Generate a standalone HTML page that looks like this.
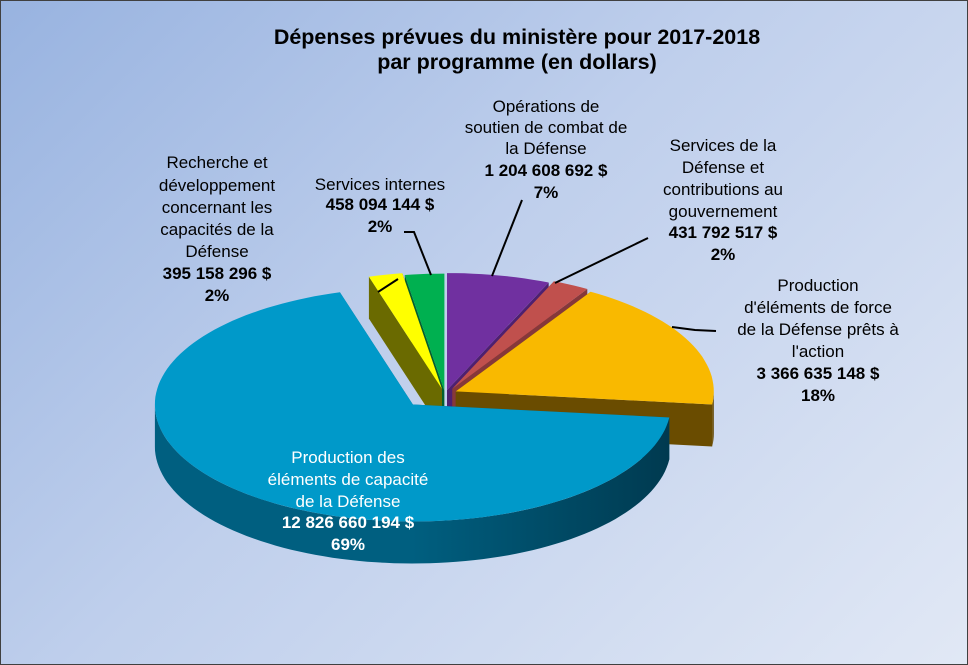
<!DOCTYPE html>
<html><head><meta charset="utf-8"><style>
html,body{margin:0;padding:0}
body{width:968px;height:665px;overflow:hidden;font-family:"Liberation Sans",Arial,sans-serif}
#wrap{position:absolute;left:0;top:0;width:966px;height:663px;border:1px solid #404040;background:linear-gradient(135deg,#98b3e0 0%,#bfcfec 45%,#e1e8f5 100%)}
</style></head><body>
<div id="wrap">
<svg id="svg" width="968" height="665" style="position:absolute;left:-1px;top:-1px">
<g id="slices"></g>
<g id="leaders" stroke="#000" stroke-width="2" fill="none">
<polyline points="522,200 492,276"/>
<polyline points="648,238 555,283"/>
<polyline points="716,331 695,330 672,327"/>
<polyline points="378,292 398,279"/>
<polyline points="404,232 414,232 431,275"/>
</g>
<g font-size="17" text-anchor="middle" fill="#000">
<text font-weight="bold" font-size="21.5"><tspan x="517" y="44">Dépenses prévues du ministère pour 2017-2018</tspan><tspan x="517" y="69">par programme (en dollars)</tspan></text>
<text><tspan x="546" y="112">Opérations de</tspan><tspan x="546" y="133">soutien de combat de</tspan><tspan x="546" y="154">la Défense</tspan><tspan x="546" y="176" font-weight="bold">1 204 608 692 $</tspan><tspan x="546" y="198" font-weight="bold">7%</tspan></text>
<text><tspan x="723" y="151">Services de la</tspan><tspan x="723" y="173">Défense et</tspan><tspan x="723" y="195">contributions au</tspan><tspan x="723" y="217">gouvernement</tspan><tspan x="723" y="238" font-weight="bold">431 792 517 $</tspan><tspan x="723" y="260" font-weight="bold">2%</tspan></text>
<text><tspan x="818" y="291">Production</tspan><tspan x="818" y="313">d'éléments de force</tspan><tspan x="818" y="335">de la Défense prêts à</tspan><tspan x="818" y="357">l'action</tspan><tspan x="818" y="379" font-weight="bold">3 366 635 148 $</tspan><tspan x="818" y="401" font-weight="bold">18%</tspan></text>
<text fill="#fff"><tspan x="348" y="463">Production des</tspan><tspan x="348" y="485">éléments de capacité</tspan><tspan x="348" y="507">de la Défense</tspan><tspan x="348" y="528" font-weight="bold">12 826 660 194 $</tspan><tspan x="348" y="550" font-weight="bold">69%</tspan></text>
<text><tspan x="217" y="168">Recherche et</tspan><tspan x="217" y="191">développement</tspan><tspan x="217" y="213">concernant les</tspan><tspan x="217" y="235">capacités de la</tspan><tspan x="217" y="257">Défense</tspan><tspan x="217" y="279" font-weight="bold">395 158 296 $</tspan><tspan x="217" y="301" font-weight="bold">2%</tspan></text>
<text><tspan x="380" y="190">Services internes</tspan><tspan x="380" y="210" font-weight="bold">458 094 144  $</tspan><tspan x="380" y="232" font-weight="bold">2%</tspan></text>
</g>
</svg>
</div>
<script>
const categories = ["Opérations de soutien de combat","Services de la Défense","Production d'éléments de force","Production des éléments de capacité","Recherche et développement","Services internes"];
const values = [1204608692, 431792517, 3366635148, 12826660194, 395158296, 458094144];
const explode = [10, 16, 12, 50, 14, 8];
const topColors = ["#7030a0","#c0504d","#f9b900","#0099c9","#ffff00","#00b050"];
const sideColors = ["#4e2070","#86383a","#6a4c00","#005f80","#6a6a00","#006030"];
const sideDark = ["#3a1654","#642a2a","#5a4000","#003a50","#5a5a00","#004020"];

const svg = document.getElementById('slices');
const NS = 'http://www.w3.org/2000/svg';
const CX = 445, CY = 393, RX = 258, RY = 117, DEPTH = 42;
const total = values.reduce((a,b)=>a+b,0);
function pt(cx, cy, a, dz){ const r=a*Math.PI/180; return [cx+RX*Math.sin(r), cy-RY*Math.cos(r)+(dz||0)]; }
function arc(cx,cy,a0,a1,dz){ let d=''; const n=Math.max(2,Math.ceil((a1-a0)/2)); for(let i=0;i<=n;i++){const p=pt(cx,cy,a0+(a1-a0)*i/n,dz); d+=(i?'L':'')+p[0].toFixed(1)+','+p[1].toFixed(1);} return d; }
function mk(tag, attrs){ const e=document.createElementNS(NS,tag); for(const k in attrs) e.setAttribute(k,attrs[k]); return e; }

let acc = 0;
const sl = values.map((v,i)=>{ const a0=acc/total*360; acc+=v; const a1=acc/total*360; const m=(a0+a1)/2*Math.PI/180;
  return {i,a0,a1,cx:CX+explode[i]*Math.sin(m),cy:CY-explode[i]*Math.cos(m)*0.3}; });

const order = sl.slice().sort((p,q)=>(-Math.cos((p.a0+p.a1)/2*Math.PI/180))-(-Math.cos((q.a0+q.a1)/2*Math.PI/180)));
const wallG = mk('g',{}); svg.appendChild(wallG);


order.forEach(s=>{
  [s.a0,s.a1].forEach(a=>{
    const p=pt(s.cx,s.cy,a);
    const w=mk('path',{d:`M${s.cx},${s.cy}L${p[0]},${p[1]}L${p[0]},${p[1]+DEPTH}L${s.cx},${s.cy+DEPTH}Z`,fill:sideColors[s.i]});
    
    
    wallG.appendChild(w);
  });
  const b0=Math.max(s.a0,90), b1=Math.min(s.a1,270);
  if(b1>b0){
    const top=arc(s.cx,s.cy,b0,b1,0);
    let back=''; const n=Math.ceil((b1-b0)/2); for(let k=n;k>=0;k--){const p=pt(s.cx,s.cy,b0+(b1-b0)*k/n,DEPTH); back+='L'+p[0].toFixed(1)+','+p[1].toFixed(1);}
    const gid='g'+s.i;
    const lg=mk('linearGradient',{id:gid,x1:'0',x2:'1',y1:'0',y2:'0'});
    lg.innerHTML=`<stop offset="0" stop-color="${sideColors[s.i]}"/><stop offset="0.5" stop-color="${sideColors[s.i]}"/><stop offset="1" stop-color="${sideDark[s.i]}"/>`;
    svg.appendChild(lg);
    const w=mk('path',{d:'M'+top+back+'Z',fill:`url(#${gid})`});
    
    
    wallG.appendChild(w);
  }
});
sl.forEach(s=>{
  const f=mk('path',{d:`M${s.cx},${s.cy}L`+arc(s.cx,s.cy,s.a0,s.a1,0)+'Z',fill:topColors[s.i]});
  
  
  svg.appendChild(f);
});
</script>
</body></html>
